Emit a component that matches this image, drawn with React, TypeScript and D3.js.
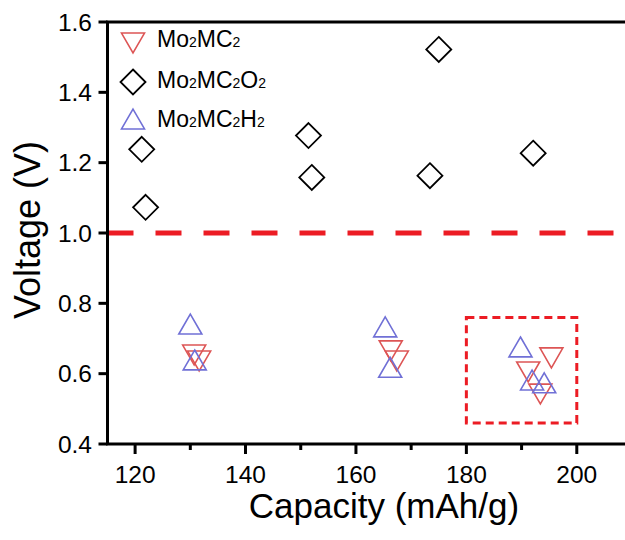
import React from "react";
import * as d3 from "d3";

// Capacity (mAh/g) and voltage (V) for each termination
const mo2mc2X = [130.7, 131.6, 166.3, 167.4, 191.2, 195.4, 193.4];
const mo2mc2Y = [0.653, 0.636, 0.665, 0.636, 0.605, 0.645, 0.542];

const mo2mc2o2X = [121.2, 121.9, 151.4, 152.0, 175.0, 173.4, 192.1];
const mo2mc2o2Y = [1.238, 1.073, 1.277, 1.158, 1.522, 1.163, 1.227];

const mo2mc2h2X = [130.0, 130.8, 165.3, 166.2, 189.8, 191.9, 194.1];
const mo2mc2h2Y = [0.741, 0.639, 0.733, 0.618, 0.676, 0.582, 0.574];

const xTicks = [120, 140, 160, 180, 200];
const xMinorTicks = [130, 150, 170, 190];
const yTicks = [0.4, 0.6, 0.8, 1.0, 1.2, 1.4, 1.6];

const thresholdVoltage = 1.0;
const highlightX = [180, 200];
const highlightY = [0.46, 0.76];

const W = 625;
const H = 540;
const left = 107.5;
const right = 632;
const top = 22;
const bottom = 444;

const RED = "#ec1c24";
const TRI_RED = "#dd5555";
const TRI_BLUE = "#7070d6";
const FONT = "Liberation Sans, Arial, sans-serif";

const x = d3.scaleLinear().domain([115, 210]).range([left, right]);
const y = d3.scaleLinear().domain([0.4, 1.6]).range([bottom, top]);

const TRI_SIDE = 23;
const TRI_H = (TRI_SIDE * Math.sqrt(3)) / 2;

function triDown(cx: number, cy: number) {
  const h = TRI_H / 2;
  const s = TRI_SIDE / 2;
  return `M${cx - s},${cy - h}L${cx + s},${cy - h}L${cx},${cy + h}Z`;
}
function triUp(cx: number, cy: number) {
  const h = TRI_H / 2;
  const s = TRI_SIDE / 2;
  return `M${cx},${cy - h}L${cx + s},${cy + h}L${cx - s},${cy + h}Z`;
}
function diamond(cx: number, cy: number) {
  const r = 12.5;
  return `M${cx},${cy - r}L${cx + r},${cy}L${cx},${cy + r}L${cx - r},${cy}Z`;
}

function Formula({ parts, xPos, yPos }: { parts: [string, boolean][]; xPos: number; yPos: number }) {
  return (
    <text x={xPos} y={yPos} fontFamily={FONT} fontSize={23} fill="#000">
      {parts.map(([t, sub], i) => (
        <tspan key={i} fontSize={sub ? 14 : 23}>
          {t}
        </tspan>
      ))}
    </text>
  );
}

export default function App() {
  return (
    <div style={{ position: "fixed", left: 0, top: 0, width: W, height: H, background: "#fff" }}>
      <svg width={W} height={H} style={{ display: "block" }}>
        <rect width={W} height={H} fill="#fff" />

        {/* threshold line */}
        <line
          x1={left}
          x2={right}
          y1={y(thresholdVoltage)}
          y2={y(thresholdVoltage)}
          stroke={RED}
          strokeWidth={5}
          strokeDasharray="26 22"
        />

        {/* highlighted region */}
        <rect
          x={x(highlightX[0])}
          y={y(highlightY[1])}
          width={x(highlightX[1]) - x(highlightX[0])}
          height={y(highlightY[0]) - y(highlightY[1])}
          fill="none"
          stroke={RED}
          strokeWidth={3}
          strokeDasharray="8 5"
        />

        {/* Mo2MC2O2 */}
        {mo2mc2o2X.map((v, i) => (
          <path key={"o" + i} d={diamond(x(v), y(mo2mc2o2Y[i]))} fill="none" stroke="#000" strokeWidth={1.8} />
        ))}
        {/* Mo2MC2 */}
        {mo2mc2X.map((v, i) => (
          <path key={"c" + i} d={triDown(x(v), y(mo2mc2Y[i]))} fill="none" stroke={TRI_RED} strokeWidth={1.6} />
        ))}
        {/* Mo2MC2H2 */}
        {mo2mc2h2X.map((v, i) => (
          <path key={"h" + i} d={triUp(x(v), y(mo2mc2h2Y[i]))} fill="none" stroke={TRI_BLUE} strokeWidth={1.6} />
        ))}

        {/* axes frame */}
        <line x1={left} x2={left} y1={top} y2={bottom} stroke="#000" strokeWidth={3} />
        <line x1={left - 1.5} x2={W} y1={bottom} y2={bottom} stroke="#000" strokeWidth={3} />
        <line x1={left - 1.5} x2={W} y1={top} y2={top} stroke="#000" strokeWidth={3} />

        {/* x ticks */}
        {xTicks.map((t) => (
          <g key={"xt" + t}>
            <line x1={x(t)} x2={x(t)} y1={bottom} y2={bottom + 10} stroke="#000" strokeWidth={3} />
            <text x={x(t)} y={483} textAnchor="middle" fontFamily={FONT} fontSize={24.5} fill="#000">
              {t}
            </text>
          </g>
        ))}
        {xMinorTicks.map((t) => (
          <line key={"xm" + t} x1={x(t)} x2={x(t)} y1={bottom} y2={bottom + 6} stroke="#000" strokeWidth={3} />
        ))}

        {/* y ticks */}
        {yTicks.map((t) => (
          <g key={"yt" + t}>
            <line x1={left - 9} x2={left} y1={y(t)} y2={y(t)} stroke="#000" strokeWidth={3} />
            <text x={92} y={y(t) + 8.5} textAnchor="end" fontFamily={FONT} fontSize={24.5} fill="#000">
              {t.toFixed(1)}
            </text>
          </g>
        ))}

        {/* axis titles */}
        <text x={384} y={518} textAnchor="middle" fontFamily={FONT} fontSize={35} fill="#000">
          Capacity (mAh/g)
        </text>
        <text
          transform="translate(40,230) rotate(-90)"
          textAnchor="middle"
          fontFamily={FONT}
          fontSize={36}
          fill="#000"
        >
          Voltage (V)
        </text>

        {/* legend */}
        <path d={triDown(133, 43)} fill="none" stroke={TRI_RED} strokeWidth={1.6} />
        <Formula xPos={157} yPos={47} parts={[["Mo", false], ["2", true], ["MC", false], ["2", true]]} />
        <path d={diamond(133, 82)} fill="none" stroke="#000" strokeWidth={1.8} />
        <Formula
          xPos={157}
          yPos={88}
          parts={[["Mo", false], ["2", true], ["MC", false], ["2", true], ["O", false], ["2", true]]}
        />
        <path d={triUp(133, 119)} fill="none" stroke={TRI_BLUE} strokeWidth={1.6} />
        <Formula
          xPos={157}
          yPos={127}
          parts={[["Mo", false], ["2", true], ["MC", false], ["2", true], ["H", false], ["2", true]]}
        />
      </svg>
    </div>
  );
}
